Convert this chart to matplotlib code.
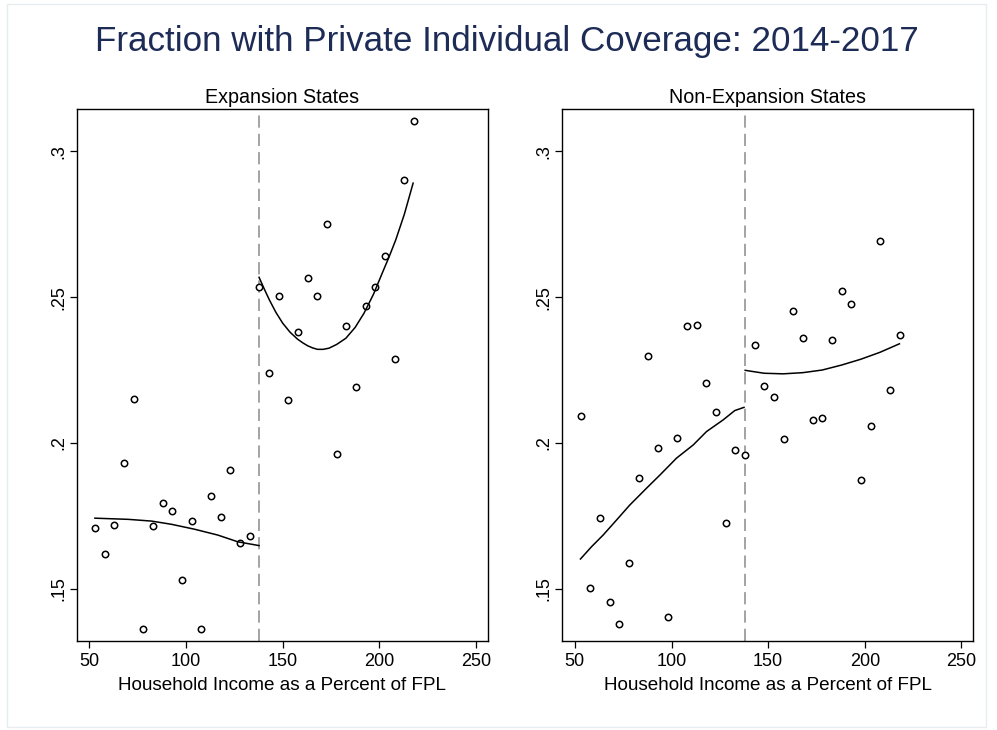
import numpy as np
import matplotlib.pyplot as plt
from matplotlib.patches import Rectangle

plt.rcParams['font.family'] = ['Liberation Sans', 'DejaVu Sans']

cutoff = 138

# binned means, income bins every 5% of FPL
bins = [53, 58, 63, 68, 73, 78, 83, 88, 93, 98, 103, 108, 113, 118, 123, 128, 133,
        138, 143, 148, 153, 158, 163, 168, 173, 178, 183, 188, 193, 198, 203, 208, 213, 218]

exp_share = [0.1708, 0.1619, 0.1718, 0.1932, 0.2152, 0.1361, 0.1715, 0.1794, 0.1768,
             0.1530, 0.1731, 0.1363, 0.1817, 0.1746, 0.1907, 0.1658, 0.1682,
             0.2535, 0.2240, 0.2505, 0.2146, 0.2380, 0.2567, 0.2503, 0.2752, 0.1963,
             0.2400, 0.2192, 0.2470, 0.2536, 0.2640, 0.2287, 0.2903, 0.3104]

nonexp_share = [0.2091, 0.1503, 0.1743, 0.1453, 0.1378, 0.1588, 0.1879, 0.2299, 0.1984,
                0.1402, 0.2017, 0.2402, 0.2403, 0.2205, 0.2105, 0.1724, 0.1975,
                0.1957, 0.2337, 0.2194, 0.2157, 0.2013, 0.2451, 0.2361, 0.2078, 0.2086,
                0.2353, 0.2520, 0.2477, 0.1872, 0.2059, 0.2693, 0.2180, 0.2370]

# fitted lines on each side of the cutoff
exp_fit_lo_x = [52.9, 70.1, 82.2, 92.5, 104.5, 116.5, 126.8, 137.8]
exp_fit_lo_y = [0.1742, 0.1738, 0.1732, 0.1721, 0.1704, 0.1684, 0.1661, 0.1648]
exp_fit_hi_x = [137.8, 140.5, 143.1, 146.5, 150.0, 153.8, 157.7, 160.5, 163.0, 165.5,
                168.0, 171.0, 174.0, 178.0, 182.7, 187.5, 192.1, 197.0, 201.5, 205.0,
                208.5, 213.0, 217.5]
exp_fit_hi_y = [0.2568, 0.2528, 0.2491, 0.2448, 0.2411, 0.2380, 0.2356, 0.2343, 0.2333,
                0.2326, 0.2321, 0.2321, 0.2325, 0.2338, 0.2359, 0.2396, 0.2445, 0.2510,
                0.2582, 0.2637, 0.2696, 0.2785, 0.2891]

nonexp_fit_lo_x = [52.9, 58.6, 64.6, 71.6, 78.4, 87.1, 94.0, 102.6, 111.2, 118.1,
                   126.7, 132.7, 137.5]
nonexp_fit_lo_y = [0.1602, 0.1644, 0.1684, 0.1736, 0.1787, 0.1845, 0.1890, 0.1948,
                   0.1993, 0.2039, 0.2079, 0.2111, 0.2122]
nonexp_fit_hi_x = [138.1, 147.9, 157.7, 167.9, 177.9, 187.9, 197.9, 207.9, 217.9]
nonexp_fit_hi_y = [0.2249, 0.2239, 0.2237, 0.2241, 0.2250, 0.2267, 0.2287, 0.2311, 0.2340]

panels = [
    ("Expansion States", exp_share, exp_fit_lo_x, exp_fit_lo_y, exp_fit_hi_x, exp_fit_hi_y),
    ("Non-Expansion States", nonexp_share, nonexp_fit_lo_x, nonexp_fit_lo_y,
     nonexp_fit_hi_x, nonexp_fit_hi_y),
]

fig = plt.figure(figsize=(9.97, 7.3), dpi=100)
fig.patches.append(Rectangle((0.007, 0.004), 0.982, 0.99, transform=fig.transFigure,
                             fill=False, edgecolor='#e6ecef', linewidth=1.0))

fig.text(0.508, 0.943, "Fraction with Private Individual Coverage: 2014-2017",
         ha='center', va='center', fontsize=25.2, color='#1d2b57')

lefts = [0.077, 0.564]
for left, (name, share, lx, ly, hx, hy) in zip(lefts, panels):
    ax = fig.add_axes([left, 0.122, 0.412, 0.729])
    ax.axvline(cutoff, color='#8a8a8a', linewidth=1.1, dashes=(8, 4))
    ax.plot(bins, share, linestyle='none', marker='o', markersize=4.6,
            markerfacecolor='white', markeredgecolor='black', markeredgewidth=1.1)
    ax.plot(lx, ly, color='black', linewidth=1.1)
    ax.plot(hx, hy, color='black', linewidth=1.1)

    ax.set_xlim(43.5, 256)
    ax.set_ylim(0.1321, 0.3146)
    ax.set_xticks([50, 100, 150, 200, 250])
    ax.set_yticks([0.15, 0.2, 0.25, 0.3])
    ax.set_yticklabels(['.15', '.2', '.25', '.3'], rotation=90, va='center')
    ax.tick_params(labelsize=13, length=5, width=0.9, direction='out')
    ax.tick_params(axis='y', pad=2)
    ax.set_xlabel("Household Income as a Percent of FPL", fontsize=13.6, labelpad=5)
    ax.set_title(name, fontsize=14.2, pad=4)
    for s in ax.spines.values():
        s.set_linewidth(1.0)

fig.savefig("out.png", dpi=100)
